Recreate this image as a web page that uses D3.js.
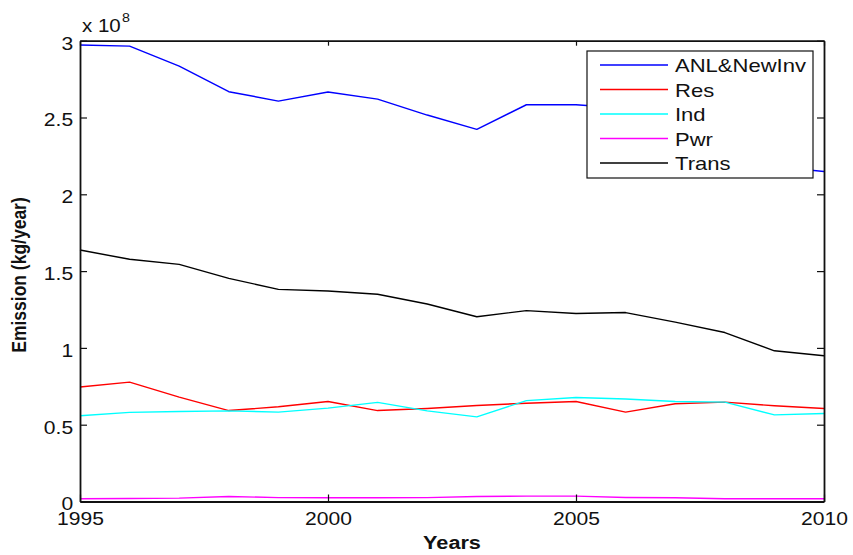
<!DOCTYPE html>
<html><head><meta charset="utf-8">
<script src="https://cdn.jsdelivr.net/npm/d3@7"></script>
<style>
html,body{margin:0;padding:0;background:#fff;}
svg{display:block;}
text{font-family:"Liberation Sans",Arial,Helvetica,sans-serif;fill:#111;}
</style></head>
<body>
<svg id="chart" width="853" height="555"></svg>
<script>
const years = [1995,1996,1997,1998,1999,2000,2001,2002,2003,2004,2005,2006,2007,2008,2009,2010];
const anlNewInv = [2.972,2.965,2.835,2.668,2.607,2.666,2.620,2.516,2.423,2.583,2.583,2.560,2.470,2.380,2.180,2.148];
const res = [0.745,0.777,0.680,0.592,0.617,0.651,0.592,0.605,0.625,0.640,0.651,0.582,0.636,0.647,0.623,0.605];
const ind = [0.558,0.580,0.586,0.590,0.582,0.608,0.645,0.590,0.551,0.657,0.677,0.667,0.651,0.647,0.564,0.573];
const pwr = [0.018,0.020,0.022,0.033,0.025,0.024,0.024,0.025,0.033,0.035,0.035,0.026,0.024,0.018,0.018,0.018];
const trans = [1.637,1.577,1.544,1.453,1.381,1.370,1.349,1.286,1.203,1.243,1.224,1.230,1.168,1.100,0.981,0.949];
const seriesNames = ["ANL&NewInv","Res","Ind","Pwr","Trans"];
const seriesColors = ["#0000ff","#ff0000","#00ffff","#ff00ff","#000000"];
const xTicks = [1995,2000,2005,2010];
const yTicks = [0,0.5,1,1.5,2,2.5,3];
const yTickLabels = ["0","0.5","1","1.5","2","2.5","3"];

const seriesData = [anlNewInv,res,ind,pwr,trans];

const L = 80, R = 824, T = 40.7, B = 501.5;
const svg = d3.select("#chart");
const x = d3.scaleLinear().domain([1995,2010]).range([L,R]);
const y = d3.scaleLinear().domain([0,3]).range([B,T]);
const SX = 1.14;

// lines
const line = d3.line().x((d,i)=>x(years[i])).y(d=>y(d));
const gLines = svg.append("g");
seriesData.forEach((s,k)=>{
  gLines.append("path").datum(s).attr("d",line)
    .attr("fill","none").attr("stroke",seriesColors[k]).attr("stroke-width",1.4)
    .attr("stroke-linejoin","round");
});

// axes
function styleAxis(g){
  g.selectAll("path.domain").attr("stroke","#111").attr("stroke-width",1.8);
  g.selectAll(".tick line").attr("stroke","#111").attr("stroke-width",1.2);
}
const xb = svg.append("g").attr("transform",`translate(0,${B})`)
  .call(d3.axisBottom(x).tickValues(xTicks).tickFormat(d3.format("d")).tickSize(-7).tickSizeOuter(0).tickPadding(10.5));
styleAxis(xb);
xb.selectAll("text").attr("font-size",18.5).attr("fill","#111")
  .style("font-family","'Liberation Sans',Arial,sans-serif").attr("transform",`scale(${SX},1)`);

const xt = svg.append("g").attr("transform",`translate(0,${T})`)
  .call(d3.axisTop(x).tickValues(xTicks).tickFormat("").tickSize(-5).tickSizeOuter(0));
styleAxis(xt);

const yl = svg.append("g").attr("transform",`translate(${L},0)`)
  .call(d3.axisLeft(y).tickValues(yTicks).tickFormat((d,i)=>yTickLabels[i]).tickSize(-7).tickSizeOuter(0).tickPadding(6));
styleAxis(yl);
yl.selectAll("text").attr("font-size",18.5).attr("fill","#111")
  .style("font-family","'Liberation Sans',Arial,sans-serif").attr("transform",`scale(${SX},1)`).attr("dy","0.45em");

const yr = svg.append("g").attr("transform",`translate(${R},0)`)
  .call(d3.axisRight(y).tickValues(yTicks).tickFormat("").tickSize(-7).tickSizeOuter(0));
styleAxis(yr);

// exponent label
const ex = svg.append("text").attr("transform",`translate(82,31.5) scale(${SX},1)`).attr("font-size",18);
ex.append("tspan").text("x 10");
ex.append("tspan").attr("font-size",12.5).attr("dy",-10).attr("dx",1).text("8");

// axis titles
svg.append("text").attr("transform",`translate(452,549) scale(${SX},1)`)
  .attr("text-anchor","middle").attr("font-size",19).attr("font-weight","bold").text("Years");
svg.append("text").attr("transform",`translate(26,275) rotate(-90) scale(1,${SX})`)
  .attr("text-anchor","middle").attr("font-size",17.5).attr("font-weight","bold").text("Emission (kg/year)");

// legend
const lg = svg.append("g");
lg.append("rect").attr("x",587).attr("y",51).attr("width",226).attr("height",127)
  .attr("fill","#fff").attr("stroke","#111").attr("stroke-width",1.2);
const rowY = [65,89.5,114,138.5,163];
seriesNames.forEach((n,k)=>{
  lg.append("line").attr("x1",600).attr("x2",668).attr("y1",rowY[k]).attr("y2",rowY[k])
    .attr("stroke",seriesColors[k]).attr("stroke-width",1.4);
  lg.append("text").attr("transform",`translate(675,${rowY[k]+7}) scale(1.19,1)`)
    .attr("font-size",18.5).text(n);
});
</script>
</body></html>
